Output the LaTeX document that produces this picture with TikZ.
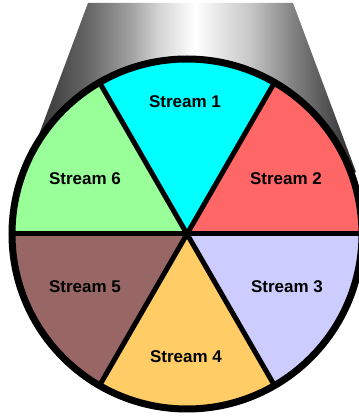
\documentclass[tikz,border=0pt]{standalone}
\usepackage{fontspec}
\setmainfont{Liberation Sans}
\usetikzlibrary{calc}
\pgfdeclarehorizontalshading{cylshade}{100bp}{%
  rgb(0bp)=(0.16,0.16,0.16);
  rgb(25bp)=(0.16,0.16,0.16);
  rgb(27.3bp)=(0.22,0.22,0.22);
  rgb(34.5bp)=(0.40,0.40,0.40);
  rgb(40.9bp)=(0.63,0.63,0.63);
  rgb(45.4bp)=(0.84,0.84,0.84);
  rgb(50.7bp)=(1,1,1);
  rgb(59bp)=(0.78,0.78,0.78);
  rgb(65.5bp)=(0.51,0.51,0.51);
  rgb(72.6bp)=(0.25,0.25,0.25);
  rgb(75bp)=(0.16,0.16,0.16);
  rgb(100bp)=(0.16,0.16,0.16)}
\definecolor{cS1}{RGB}{0,255,255}
\definecolor{cS2}{RGB}{255,102,102}
\definecolor{cS3}{RGB}{204,204,255}
\definecolor{cS4}{RGB}{255,204,102}
\definecolor{cS5}{RGB}{153,102,102}
\definecolor{cS6}{RGB}{153,255,153}
\tikzset{
  lbl/.style={font=\fontsize{17}{20}\selectfont\bfseries, text=black, inner sep=0pt},
  divider/.style={line width=5pt, black},
  rim/.style={line width=7pt, black}
}
\begin{document}
\begin{tikzpicture}[x=1pt,y=1pt]
\useasboundingbox (0,0) rectangle (359,416);
\clip (0,0) rectangle (359,416);
\coordinate (c) at (187,182);
% cone body (ends at its tangent points with the rim)
\path[shading=cylshade] (88,413) -- (293,413) -- (356,244) -- (c) -- (25,244) -- cycle;
% sectors
\def\R{175}
\fill[cS1] (c) -- ++(60:\R) arc[start angle=60, end angle=120, radius=\R] -- cycle;
\fill[cS2] (c) -- ++(0:\R) arc[start angle=0, end angle=60, radius=\R] -- cycle;
\fill[cS3] (c) -- ++(-60:\R) arc[start angle=-60, end angle=0, radius=\R] -- cycle;
\fill[cS4] (c) -- ++(-120:\R) arc[start angle=-120, end angle=-60, radius=\R] -- cycle;
\fill[cS5] (c) -- ++(180:\R) arc[start angle=180, end angle=240, radius=\R] -- cycle;
\fill[cS6] (c) -- ++(120:\R) arc[start angle=120, end angle=180, radius=\R] -- cycle;
% dividers
\draw[divider] ($(c)+(0:\R)$) -- ($(c)+(180:\R)$);
\draw[divider] ($(c)+(60:\R)$) -- ($(c)+(240:\R)$);
\draw[divider] ($(c)+(120:\R)$) -- ($(c)+(300:\R)$);
% rim
\draw[rim] (c) circle[radius=\R];
% labels
\node[lbl] (s1) at (185,314) {Stream 1};
\node[lbl] (s2) at (286,237) {Stream 2};
\node[lbl] (s3) at (287,129) {Stream 3};
\node[lbl] (s4) at (186,59) {Stream 4};
\node[lbl] (s5) at (85,129) {Stream 5};
\node[lbl] (s6) at (85,237) {Stream 6};
\end{tikzpicture}
\end{document}
